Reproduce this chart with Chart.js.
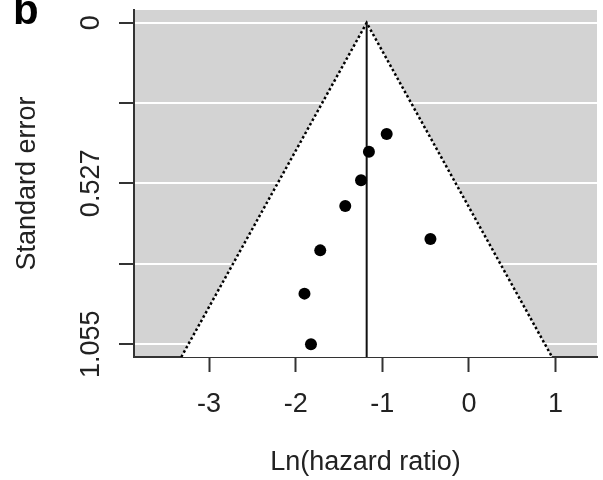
<!DOCTYPE html>
<html>
<head>
<meta charset="utf-8">
<script src="https://cdn.jsdelivr.net/npm/chart.js@4"></script>
<style>
html,body{margin:0;padding:0;background:#fff;}
#wrap{position:relative;width:603px;height:480px;}
canvas{display:block;}
</style>
</head>
<body>
<div id="wrap"><canvas id="c" width="603" height="480"></canvas></div>
<script>
// Study estimates
const lnHR = [-0.949, -1.154, -1.245, -1.427, -1.716, -0.444, -1.898, -1.823];
const stdErr = [0.365, 0.423, 0.517, 0.601, 0.747, 0.710, 0.889, 1.055];
// Summary estimate and funnel outline
const summaryEstimate = -1.18;
const funnelX = [-3.32, -1.18, 0.96];
const funnelY = [1.097, 0, 1.097];
// Axes
const xTicks = [-3, -2, -1, 0, 1];
const yTickValues = [0, 0.264, 0.527, 0.791, 1.055];
const yTickLabels = ['0', '', '0.527', '', '1.055'];
const xRange = [-3.866, 1.479];
const yRange = [-0.042, 1.097];

const FONT = '"Liberation Sans", Arial, Helvetica, sans-serif';
const FS = 27;
Chart.defaults.font.family = FONT;
Chart.defaults.color = '#222';

const bgPlugin = {
  id: 'plotBg',
  beforeDraw(chart) {
    const a = chart.chartArea, ctx = chart.ctx;
    ctx.save();
    ctx.fillStyle = '#d3d3d3';
    ctx.fillRect(a.left, a.top, a.right - a.left, a.bottom - a.top);
    ctx.restore();
  }
};

const labelPlugin = {
  id: 'extraText',
  afterDraw(chart) {
    const ctx = chart.ctx, s = chart.scales.y;
    ctx.save();
    ctx.fillStyle = '#222';
    ctx.font = FS + 'px ' + FONT;
    ctx.textAlign = 'center';
    ctx.textBaseline = 'alphabetic';
    yTickValues.forEach((v, i) => {
      const lab = yTickLabels[i];
      if (!lab) return;
      const py = s.getPixelForValue(v);
      ctx.save();
      ctx.translate(98.5, py);
      ctx.rotate(-Math.PI / 2);
      ctx.fillText(lab, 0, 0);
      ctx.restore();
    });
    ctx.fillStyle = '#000';
    ctx.font = 'bold 42px ' + FONT;
    ctx.textAlign = 'left';
    ctx.fillText('b', 13, 24);
    ctx.restore();
  }
};

new Chart(document.getElementById('c'), {
  type: 'line',
  data: {
    datasets: [
      {
        label: 'studies',
        data: lnHR.map((x, i) => ({x: x, y: stdErr[i]})),
        showLine: false,
        pointRadius: 6,
        pointBackgroundColor: '#000',
        pointBorderColor: '#000',
        pointBorderWidth: 0,
        order: 0
      },
      {
        label: 'summary',
        data: [{x: summaryEstimate, y: funnelY[1]}, {x: summaryEstimate, y: funnelY[0]}],
        borderColor: '#111',
        borderWidth: 2,
        pointRadius: 0,
        fill: false,
        order: 1
      },
      {
        label: 'funnel',
        data: funnelX.map((x, i) => ({x: x, y: funnelY[i]})),
        borderColor: '#000',
        borderWidth: 2.5,
        borderDash: [2.5, 2.5],
        pointRadius: 0,
        backgroundColor: '#ffffff',
        fill: {value: yRange[1]},
        tension: 0,
        order: 2
      }
    ]
  },
  options: {
    responsive: false,
    animation: false,
    devicePixelRatio: 1,
    layout: {padding: {top: 10, right: 0, left: 0, bottom: 0}},
    plugins: {legend: {display: false}, tooltip: {enabled: false}},
    scales: {
      x: {
        type: 'linear',
        min: xRange[0], max: xRange[1],
        afterBuildTicks: s => { s.ticks = xTicks.map(v => ({value: v})); },
        afterFit: s => { s.height = 123; },
        grid: {drawOnChartArea: false, drawTicks: true, tickLength: 15, tickColor: '#333', tickWidth: 2},
        border: {display: true, color: '#333', width: 2},
        ticks: {font: {size: FS}, color: '#222', padding: 16, maxRotation: 0, callback: v => String(v)},
        title: {display: true, text: 'Ln(hazard ratio)', font: {size: FS}, color: '#222', padding: {top: 0, bottom: 1.5}}
      },
      y: {
        type: 'linear',
        reverse: true,
        min: yRange[0], max: yRange[1],
        afterBuildTicks: s => { s.ticks = yTickValues.map(v => ({value: v})); },
        afterFit: s => { s.width = 134; },
        grid: {drawOnChartArea: true, color: '#ffffff', lineWidth: 2, drawTicks: true, tickLength: 15, tickColor: '#333', tickWidth: 2},
        border: {display: true, color: '#333', width: 2},
        ticks: {display: false},
        title: {display: true, text: 'Standard error', font: {size: FS}, color: '#222', padding: {top: 11, bottom: 0}}
      }
    }
  },
  plugins: [bgPlugin, labelPlugin]
});
</script>
</body>
</html>
